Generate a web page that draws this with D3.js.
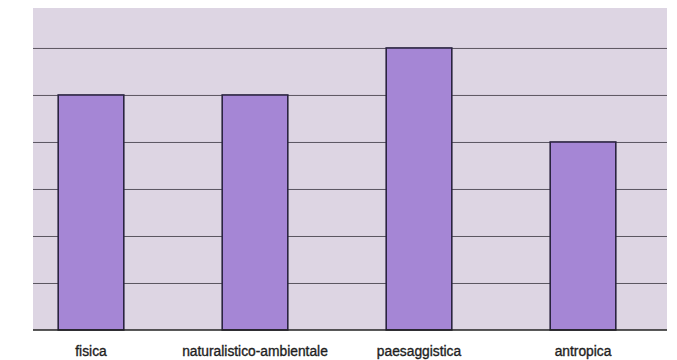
<!DOCTYPE html>
<html><head><meta charset="utf-8">
<script src="https://cdn.jsdelivr.net/npm/d3@7/dist/d3.min.js"></script>
<style>html,body{margin:0;padding:0;background:#fff;}</style>
</head><body>
<svg id="chart" width="677" height="360"></svg>
<script>
const categories = ["fisica", "naturalistico-ambientale", "paesaggistica", "antropica"];
const values = [5, 5, 6, 4];
const yTicks = [1, 2, 3, 4, 5, 6];

const svg = d3.select("#chart");
const plot = {left: 33, right: 667, top: 8, bottom: 330};

const x = d3.scaleBand().domain(categories).range([9, 665]).paddingInner(0.6).paddingOuter(0.3);
const y = d3.scaleLinear().domain([0, 6.85]).range([plot.bottom, plot.top]);

svg.append("rect").attr("x", plot.left).attr("y", plot.top)
  .attr("width", plot.right - plot.left).attr("height", plot.bottom - plot.top)
  .attr("fill", "#ddd5e3");

const grid = d3.axisLeft(y).tickValues(yTicks).tickSize(-(plot.right - plot.left)).tickFormat("");
const g = svg.append("g").attr("transform", `translate(${plot.left},0)`).call(grid);
g.select(".domain").remove();
g.selectAll(".tick line").attr("stroke", "#5a5560").attr("stroke-width", 1);

svg.selectAll("rect.bar").data(categories).enter().append("rect").attr("class", "bar")
  .attr("x", d => x(d)).attr("width", x.bandwidth())
  .attr("y", (d, i) => y(values[i])).attr("height", (d, i) => y(0) - y(values[i]))
  .attr("fill", "#a586d5").attr("stroke", "#2a2440").attr("stroke-width", 1.6);

const xa = d3.axisBottom(x).tickSize(0).tickPadding(0);
const ga = svg.append("g").attr("transform", `translate(0,${plot.bottom})`).call(xa);
ga.select(".domain").remove();
ga.selectAll("text").attr("y", 26).attr("dy", 0)
  .attr("font-family", "'Liberation Sans', Arial, sans-serif").attr("font-size", 13.8)
  .attr("fill", "#1e1e1e").attr("stroke", "#1e1e1e").attr("stroke-width", 0.35);

svg.append("line").attr("x1", plot.left).attr("x2", plot.right)
  .attr("y1", plot.bottom).attr("y2", plot.bottom)
  .attr("stroke", "#222").attr("stroke-width", 1.5);
</script>
</body></html>
